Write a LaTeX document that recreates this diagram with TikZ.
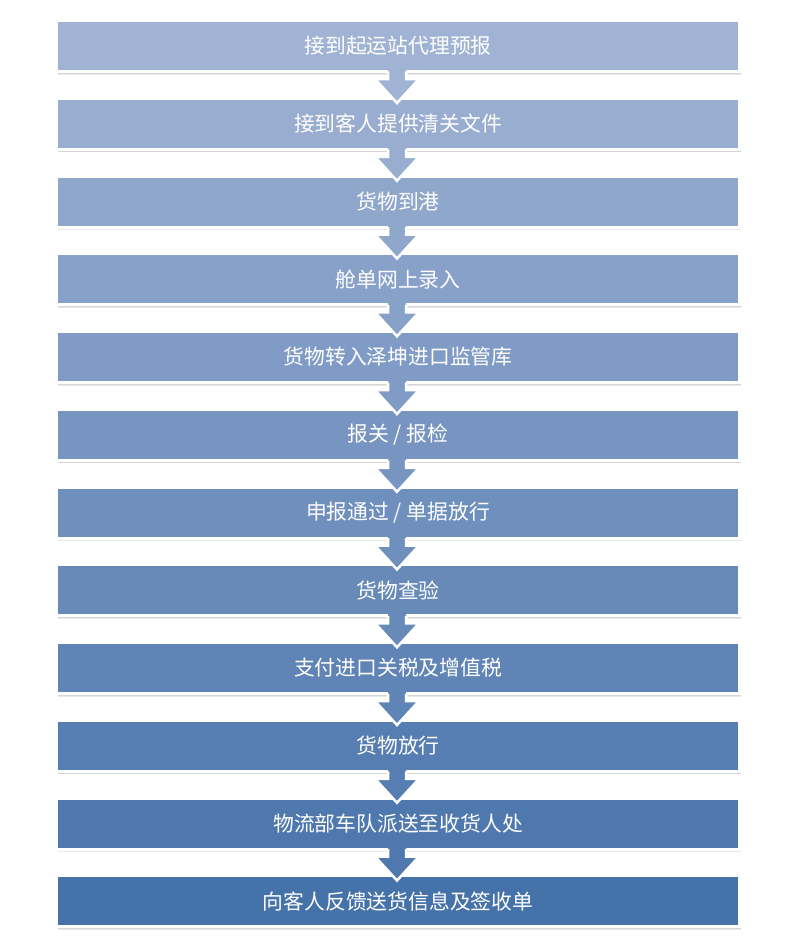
\documentclass[tikz,border=0pt]{standalone}
\usepackage{fontspec}
\newfontfamily\cjk{Noto Sans CJK SC}
\usetikzlibrary{calc,shadows}
\definecolor{boxtop}{RGB}{161,179,212}
\definecolor{boxbot}{RGB}{70,114,170}
\tikzset{
  stepbox/.style={draw=white, line width=3pt, minimum width=683pt, minimum height=51pt,
    inner sep=0pt, text=white, font=\cjk\fontsize{20.8}{24}\selectfont,
    drop shadow={shadow xshift=1.5pt, shadow yshift=-3.2pt, opacity=0.18},
    drop shadow={shadow xshift=1pt, shadow yshift=-2.4pt, opacity=0.18}},
  flowarrow/.style={draw=white, line width=2.5pt, line join=miter},
}
\begin{document}
\begin{tikzpicture}[x=1pt,y=-1pt]
\useasboundingbox (0,0) rectangle (800,950);
\foreach \t [count=\i] in {接到起运站代理预报,接到客人提供清关文件,货物到港,舱单网上录入,货物转入泽坤进口监管库,报关 / 报检,申报通过 / 单据放行,货物查验,支付进口关税及增值税,货物放行,物流部车队派送至收货人处,向客人反馈送货信息及签收单} {
  \pgfmathsetmacro\p{(\i-1)/11*100}
  \colorlet{fc}{boxbot!\p!boxtop}
  \node[stepbox, fill=fc] (b\i) at (398, {46+77.75*(\i-1)}) {\t};
}
\foreach \i in {1,...,11} {
  \pgfmathsetmacro\p{(\i-1)/11*100}
  \colorlet{fc}{boxbot!\p!boxtop}
  \coordinate (a\i) at ($(b\i.south)+(-1,0)$);
  \fill[fc] ($(a\i)+(-9,-6)$) -- ($(a\i)+(9,-6)$) -- ($(a\i)+(9,6)$) -- ($(a\i)+(22,6)$)
     -- ($(a\i)+(0,30)$) -- ($(a\i)+(-22,6)$) -- ($(a\i)+(-9,6)$) -- cycle;
  \draw[flowarrow] ($(a\i)+(-9,-1.5)$) -- ($(a\i)+(-9,6)$) -- ($(a\i)+(-22,6)$)
     -- ($(a\i)+(0,30)$) -- ($(a\i)+(22,6)$) -- ($(a\i)+(9,6)$) -- ($(a\i)+(9,-1.5)$);
}
\end{tikzpicture}
\end{document}
